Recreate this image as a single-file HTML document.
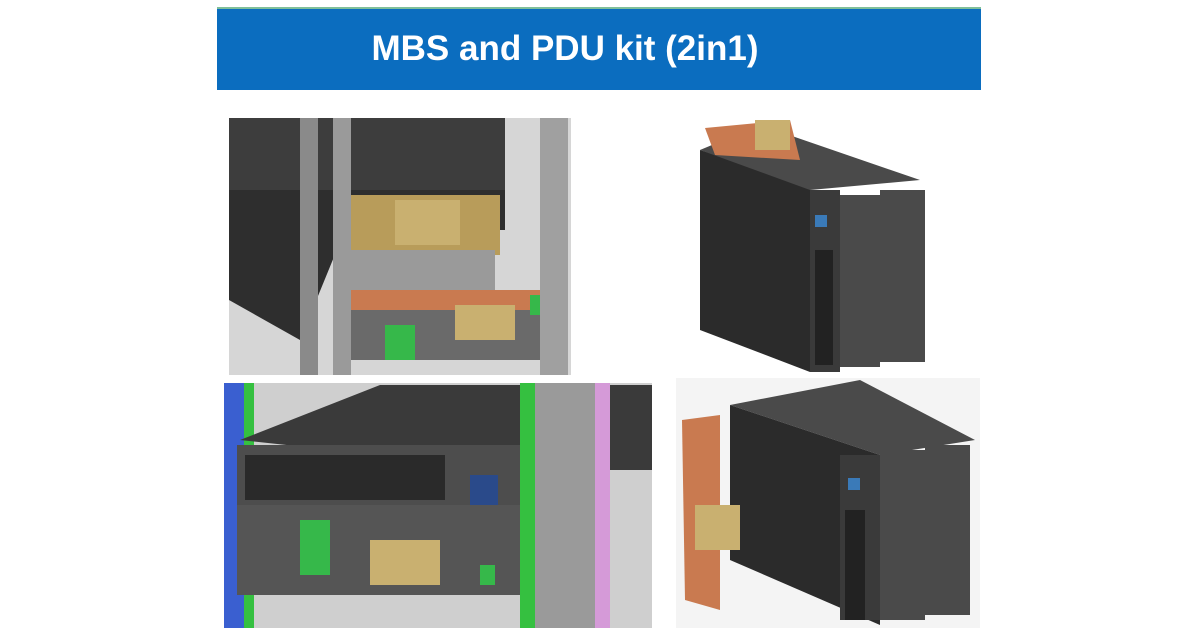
<!DOCTYPE html>
<html><head><meta charset="utf-8"><style>
html,body{margin:0;padding:0;background:#fff;width:1200px;height:630px;overflow:hidden}
.bar{position:absolute;left:217px;top:7px;width:764px;height:83px;background:#0b6dbf;border-top:2px solid #7fbf9a;box-sizing:border-box}
.t{position:absolute;left:217px;top:7px;width:764px;height:83px;text-align:center;box-sizing:border-box;font:bold 35px "Liberation Sans",sans-serif;color:#fff;line-height:83px;}
svg{position:absolute;left:0;top:0}
</style></head><body>
<div class="bar"></div>
<div class="t"><span style="position:relative;left:-34px">MBS and PDU kit (2in1)</span></div>
<svg width="1200" height="630" viewBox="0 0 1200 630">
<!-- top-left -->
<rect x="229" y="118" width="342" height="257" fill="#d6d6d6"/>
<polygon points="229,118 505,118 505,190 229,190" fill="#3d3d3d"/>
<polygon points="229,190 505,190 505,230 345,230 300,340 229,300" fill="#2e2e2e"/>
<rect x="340" y="195" width="160" height="60" fill="#b89c5a"/>
<rect x="395" y="200" width="65" height="45" fill="#c9b070"/>
<rect x="345" y="250" width="150" height="40" fill="#9a9a9a"/>
<rect x="345" y="290" width="210" height="20" fill="#c97a50"/>
<rect x="345" y="310" width="210" height="50" fill="#6a6a6a"/>
<rect x="455" y="305" width="60" height="35" fill="#c9b070"/>
<rect x="385" y="325" width="30" height="35" fill="#36b84a"/>
<rect x="530" y="295" width="12" height="20" fill="#36b84a"/>
<rect x="300" y="118" width="18" height="257" fill="#8a8a8a"/>
<rect x="333" y="118" width="18" height="257" fill="#9a9a9a"/>
<rect x="540" y="118" width="28" height="257" fill="#a0a0a0"/>
<!-- top-right -->
<polygon points="700,150 810,185 810,372 700,330" fill="#2b2b2b"/>
<polygon points="700,150 760,125 920,180 810,190" fill="#4a4a4a"/>
<rect x="810" y="190" width="30" height="182" fill="#3a3a3a"/>
<rect x="840" y="195" width="40" height="172" fill="#4a4a4a"/>
<rect x="880" y="190" width="45" height="172" fill="#4a4a4a"/>
<rect x="815" y="250" width="18" height="115" fill="#222"/>
<rect x="815" y="215" width="12" height="12" fill="#3a7ab8"/>
<polygon points="705,128 790,120 800,160 715,155" fill="#c97a50"/>
<rect x="755" y="120" width="35" height="30" fill="#c9b070"/>
<!-- bottom-left -->
<rect x="224" y="383" width="428" height="245" fill="#cfcfcf"/>
<rect x="224" y="383" width="20" height="245" fill="#3a5fd0"/>
<rect x="244" y="383" width="10" height="245" fill="#35c040"/>
<polygon points="240,440 380,385 652,385 652,470 520,470" fill="#3a3a3a"/>
<rect x="237" y="445" width="290" height="60" fill="#4d4d4d"/>
<rect x="245" y="455" width="200" height="45" fill="#2a2a2a"/>
<rect x="470" y="475" width="28" height="50" fill="#2a4a8a"/>
<rect x="237" y="505" width="320" height="90" fill="#555"/>
<rect x="300" y="520" width="30" height="55" fill="#36b84a"/>
<rect x="370" y="540" width="70" height="45" fill="#c9b070"/>
<rect x="480" y="565" width="15" height="20" fill="#36b84a"/>
<rect x="520" y="383" width="15" height="245" fill="#35c040"/>
<rect x="535" y="383" width="60" height="245" fill="#9a9a9a"/>
<rect x="595" y="383" width="15" height="245" fill="#d59ad8"/>
<!-- bottom-right -->
<rect x="676" y="378" width="304" height="250" fill="#f4f4f4"/>
<polygon points="730,405 860,380 975,440 880,455" fill="#4a4a4a"/>
<polygon points="730,405 880,455 880,625 730,560" fill="#2b2b2b"/>
<rect x="840" y="455" width="40" height="165" fill="#3a3a3a"/>
<rect x="880" y="450" width="45" height="170" fill="#4a4a4a"/>
<rect x="925" y="445" width="45" height="170" fill="#4a4a4a"/>
<rect x="845" y="510" width="20" height="110" fill="#222"/>
<rect x="848" y="478" width="12" height="12" fill="#3a7ab8"/>
<polygon points="682,420 720,415 720,610 685,600" fill="#c97a50"/>
<rect x="695" y="505" width="45" height="45" fill="#c9b070"/>
</svg>
</body></html>
